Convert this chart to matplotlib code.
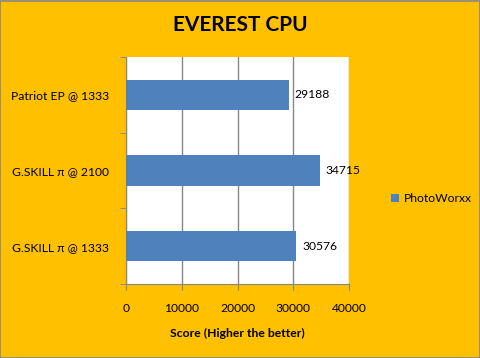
import matplotlib
matplotlib.use('Agg')
import matplotlib.pyplot as plt
from matplotlib.patches import Rectangle

categories = ['G.SKILL π @ 1333', 'G.SKILL π @ 2100', 'Patriot EP @ 1333']
scores = [30576, 34715, 29188]
xticks = [0, 10000, 20000, 30000, 40000]
series_name = 'PhotoWorxx'

bg = '#FFC000'
bar_color = '#4F81BD'
grid_color = '#868686'
plt.rcParams['font.family'] = ['Lato', 'DejaVu Sans']

fig = plt.figure(figsize=(4.81, 3.58), dpi=100, facecolor=bg)
# thin grey border around the chart
fig.patches.append(Rectangle((0.001, 0.001), 0.997, 0.996, transform=fig.transFigure,
                             fill=False, edgecolor='#888888', linewidth=1.2))

ax = fig.add_axes([0.262, 0.2067, 0.4636, 0.6341])
ax.set_facecolor('white')
pos = list(range(len(categories)))
ax.barh(pos, scores, height=0.4, color=bar_color, label=series_name, zorder=3)

for p, v in zip(pos, scores):
    ax.text(v + 1000, p, str(v), va='center', ha='left', fontsize=8.7, zorder=4)

ax.set_xlim(0, 40000)
ax.set_ylim(-0.5, 2.5)
ax.set_xticks(xticks)
ax.set_xticklabels([str(t) for t in xticks], fontsize=8.7)
ax.set_yticks(pos)
ax.set_yticklabels(categories, fontsize=8.7)
ax.set_yticks([0.5, 1.5, 2.5, -0.5], minor=True)
ax.tick_params(axis='y', which='major', length=0, pad=12)
ax.tick_params(axis='y', which='minor', length=4, color=grid_color)
ax.tick_params(axis='x', length=4, color=grid_color, pad=10)
ax.grid(axis='x', color=grid_color, linewidth=1, zorder=1)
for s in ['top', 'right']:
    ax.spines[s].set_visible(False)
for s in ['left', 'bottom']:
    ax.spines[s].set_color(grid_color)

ax.set_xlabel('Score (Higher the better)', fontsize=8.7, fontweight='bold', labelpad=10)
fig.text(0.5, 0.93, 'EVEREST CPU', ha='center', va='center', fontsize=15, fontweight='bold')

fig.legend(loc='center left', bbox_to_anchor=(0.79, 0.445), frameon=False, fontsize=8.7,
           handlelength=0.7, handleheight=0.7, handletextpad=0.4)

plt.savefig('out.png', dpi=100, facecolor=bg)
